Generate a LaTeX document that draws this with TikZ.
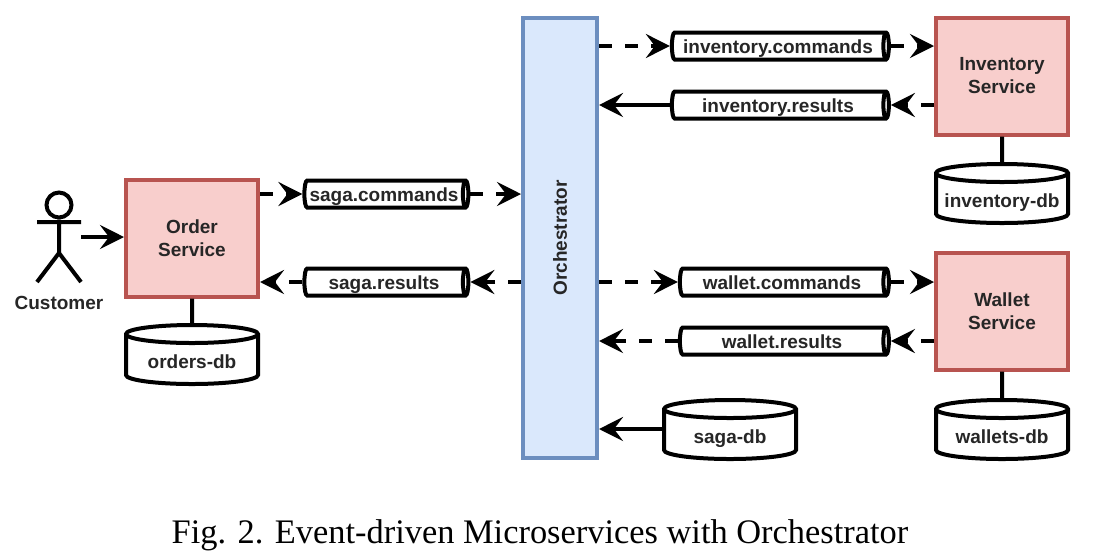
\documentclass[tikz,border=0pt]{standalone}
\usepackage{fontspec}
\setmainfont{Liberation Sans}
\newfontfamily\capfont{Liberation Serif}
\usetikzlibrary{shapes.geometric,arrows.meta}
\definecolor{svcfill}{HTML}{F8CECC}
\definecolor{svcline}{HTML}{B85450}
\definecolor{orchfill}{HTML}{DAE8FC}
\definecolor{orchline}{HTML}{6C8EBF}
\newcommand{\dbtext}[1]{\makebox[30pt]{#1}}
\tikzset{
  x=0.5pt,y=-0.5pt,
  lbl/.style={font=\fontsize{9.5}{11.5}\selectfont\bfseries,text=black!85},
  svc/.style={draw=svcline,fill=svcfill,line width=2pt,minimum width=66pt,minimum height=58.5pt,inner sep=0pt,align=center,lbl},
  orch/.style={draw=orchline,fill=orchfill,line width=2pt,minimum width=37pt,minimum height=220pt,inner sep=0pt,lbl},
  queue/.style={cylinder,draw=black,fill=white,line width=2pt,aspect=0.25,minimum height=#1,minimum width=13.5pt,inner sep=0pt,text height=9pt,text depth=2pt,lbl},
  dbase/.style={cylinder,shape border rotate=90,draw=black,fill=white,line width=2pt,aspect=0.3,minimum height=29.5pt,minimum width=66pt,inner sep=0pt,text height=10pt,text depth=2pt,lbl},
  arr/.style={line width=2pt,-{Stealth[length=12pt,width=12pt,inset=4.5pt]}},
  darr/.style={arr,dash pattern=on 6.5pt off 6.5pt},
  plain/.style={line width=2pt},
  person/.style={line width=2pt,draw=black}
}
\begin{document}
\begin{tikzpicture}
\useasboundingbox (0,0) rectangle (1106,558);
\node[svc] (order) at (192,238) {Order\\Service};
\node[orch] (orch) at (560,238) {\rotatebox{90}{Orchestrator}};
\node[svc] (inv) at (1002,76) {Inventory\\Service};
\node[svc] (wal) at (1002,311) {Wallet\\Service};
\node[queue=82pt] (sagac) at (384,194) {saga.commands};
\node[queue=82pt] (sagar) at (384,282) {saga.results};
\node[queue=108.5pt] (invc) at (778,46) {inventory.commands};
\node[queue=108.5pt] (invr) at (778,105) {inventory.results};
\node[queue=104.5pt] (walc) at (782,282) {wallet.commands};
\node[queue=104.5pt] (walr) at (782,341) {wallet.results};
\node[dbase] (odb) at (192,360) {\dbtext{orders-db}};
\node[dbase] (idb) at (1002,199) {\dbtext{inventory-db}};
\node[dbase] (wdb) at (1002,435) {\dbtext{wallets-db}};
\node[dbase] (sdb) at (730,435) {\dbtext{saga-db}};
% customer
\node[circle,person,minimum size=12.5pt,inner sep=0pt] (head) at (59,205) {};
\coordinate (hip) at (59,253);
\coordinate (larm) at (37,222);
\coordinate (rarm) at (81,222);
\coordinate (lfoot) at (37,282);
\coordinate (rfoot) at (81,282);
\coordinate (custout) at (81,237);
\coordinate (sdbout) at ([yshift=3pt]sdb.west);
\draw[person] (head.south) -- (hip) (larm) -- (rarm) (lfoot) -- (hip) -- (rfoot);
\node[lbl] (cust) at (59,303) {Customer};
% connectors
\draw[arr] (custout) -- (order.west |- custout);
\draw[darr] (order.east |- sagac.west) -- (sagac.west);
\draw[darr] (sagac.east) -- (orch.west |- sagac.east);
\draw[darr] (orch.west |- sagar.east) -- (sagar.east);
\draw[darr] (sagar.west) -- (order.east |- sagar.west);
\draw[darr] (orch.east |- invc.west) -- (invc.west);
\draw[darr] (invc.east) -- (inv.west |- invc.east);
\draw[darr] (inv.west |- invr.east) -- (invr.east);
\draw[arr] (invr.west) -- (orch.east |- invr.west);
\draw[darr] (orch.east |- walc.west) -- (walc.west);
\draw[darr] (walc.east) -- (wal.west |- walc.east);
\draw[darr] (wal.west |- walr.east) -- (walr.east);
\draw[darr] (walr.west) -- (orch.east |- walr.west);
\draw[arr] (sdbout) -- (orch.east |- sdbout);
\draw[plain] (order.south) -- (odb.north);
\draw[plain] (inv.south) -- (idb.north);
\draw[plain] (wal.south) -- (wdb.north);
\node[font=\capfont\fontsize{17.2}{20}\selectfont] (cap) at (540,535) {Fig. 2. Event-driven Microservices with Orchestrator};
\end{tikzpicture}
\end{document}
